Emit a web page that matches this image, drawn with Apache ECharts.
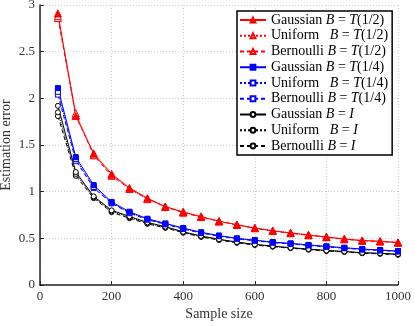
<!DOCTYPE html>
<html>
<head>
<meta charset="utf-8">
<script src="https://cdn.jsdelivr.net/npm/echarts@6/dist/echarts.min.js"></script>
<style>
  html, body { margin: 0; padding: 0; background: #fff; }
  #chart { width: 415px; height: 326px; }
</style>
</head>
<body>
<div id="chart"></div>
<script>
// sample sizes
const sampleSizes = [50, 100, 150, 200, 250, 300, 350, 400, 450, 500, 550, 600, 650, 700, 750, 800, 850, 900, 950, 1000]

// B = T(1/2)
const gaussT2 = [2.91, 1.81, 1.41, 1.19, 1.04, 0.93, 0.84, 0.78, 0.73, 0.685, 0.645, 0.61, 0.58, 0.557, 0.535, 0.514, 0.492, 0.476, 0.468, 0.455]
const uniformT2 = [2.88, 1.84, 1.40, 1.18, 1.03, 0.92, 0.84, 0.785, 0.735, 0.68, 0.648, 0.612, 0.582, 0.56, 0.538, 0.516, 0.494, 0.478, 0.47, 0.457]
const bernoulliT2 = [2.86, 1.82, 1.39, 1.17, 1.03, 0.925, 0.835, 0.775, 0.728, 0.683, 0.643, 0.608, 0.578, 0.555, 0.532, 0.512, 0.49, 0.474, 0.466, 0.452]

// B = T(1/4)
const gaussT4 = [2.11, 1.37, 1.07, 0.89, 0.785, 0.71, 0.66, 0.61, 0.565, 0.53, 0.5, 0.48, 0.46, 0.446, 0.43, 0.414, 0.4, 0.385, 0.375, 0.364]
const uniformT4 = [2.07, 1.35, 1.05, 0.88, 0.775, 0.705, 0.655, 0.605, 0.56, 0.527, 0.497, 0.477, 0.457, 0.443, 0.427, 0.411, 0.397, 0.382, 0.372, 0.361]
const bernoulliT4 = [2.04, 1.33, 1.04, 0.875, 0.77, 0.70, 0.65, 0.60, 0.556, 0.523, 0.494, 0.474, 0.454, 0.44, 0.424, 0.408, 0.394, 0.38, 0.37, 0.359]

// B = I
const gaussI = [1.92, 1.21, 0.95, 0.80, 0.735, 0.67, 0.625, 0.57, 0.525, 0.49, 0.46, 0.435, 0.417, 0.40, 0.385, 0.37, 0.36, 0.346, 0.34, 0.33]
const uniformI = [1.85, 1.19, 0.94, 0.79, 0.725, 0.662, 0.618, 0.565, 0.52, 0.486, 0.456, 0.432, 0.414, 0.397, 0.382, 0.367, 0.357, 0.343, 0.337, 0.327]
const bernoulliI = [1.81, 1.17, 0.93, 0.78, 0.715, 0.655, 0.612, 0.56, 0.515, 0.482, 0.452, 0.428, 0.41, 0.394, 0.379, 0.364, 0.354, 0.34, 0.334, 0.324]

const font = 'Liberation Serif'

function pairs(ys) {
  return sampleSizes.map((x, i) => [x, ys[i]])
}

function mk(name, ys, color, symbol, size, lineType, filled) {
  return {
    name: name,
    type: 'line',
    data: pairs(ys),
    symbol: symbol,
    symbolSize: size,
    showAllSymbol: true,
    lineStyle: { color: color, width: 1, type: lineType },
    itemStyle: { color: filled ? color : '#fff', borderColor: color, borderWidth: 1 },
    emphasis: { disabled: true },
    animation: false,
  }
}

const series = [
  mk('Bernoulli|I', bernoulliI, '#000000', 'circle', 5, [4, 3], false),
  mk('Uniform|I', uniformI, '#000000', 'circle', 5, 'dotted', false),
  mk('Gaussian|I', gaussI, '#000000', 'circle', 5, 'solid', false),
  mk('Bernoulli|T(1/4)', bernoulliT4, '#0000ff', 'rect', 5, [4, 3], false),
  mk('Uniform|T(1/4)', uniformT4, '#0000ff', 'rect', 5, 'dotted', false),
  mk('Gaussian|T(1/4)', gaussT4, '#0000ff', 'rect', 5, 'solid', true),
  mk('Bernoulli|T(1/2)', bernoulliT2, '#ff0000', 'triangle', 7, [4, 3], false),
  mk('Uniform|T(1/2)', uniformT2, '#ff0000', 'triangle', 7, 'dotted', false),
  mk('Gaussian|T(1/2)', gaussT2, '#ff0000', 'triangle', 7, 'solid', true),
]

const legendOrder = [
  'Gaussian|T(1/2)', 'Uniform|T(1/2)', 'Bernoulli|T(1/2)',
  'Gaussian|T(1/4)', 'Uniform|T(1/4)', 'Bernoulli|T(1/4)',
  'Gaussian|I', 'Uniform|I', 'Bernoulli|I',
]

const chart = echarts.init(document.getElementById('chart'), null, { renderer: 'canvas' })

chart.setOption({
  backgroundColor: '#fff',
  animation: false,
  grid: { left: 40, right: 17, top: 5, bottom: 41, containLabel: false, outerBoundsMode: 'none' },
  legend: {
    data: legendOrder,
    left: 237,
    top: 11,
    orient: 'vertical',
    backgroundColor: '#fff',
    borderColor: '#000',
    borderWidth: 1.5,
    borderRadius: 0,
    padding: [2, 4, 2, 2],
    itemWidth: 26,
    itemHeight: 6,
    itemGap: 1.75,
    formatter: function (name) {
      const parts = name.split('|')
      const lbl = parts[0] === 'Uniform' ? 'Uniform\u2002' : parts[0]
      const m = parts[1].match(/^([A-Z])(.*)$/)
      return lbl + ' {i|B} = {i|' + m[1] + '}' + m[2]
    },
    textStyle: {
      fontFamily: font,
      fontSize: 14,
      color: '#000',
      lineHeight: 14,
      rich: {
        i: { fontFamily: font, fontStyle: 'italic', fontSize: 14, color: '#000', lineHeight: 14 },
      },
    },
  },
  xAxis: {
    type: 'value',
    min: 0,
    max: 1000,
    interval: 200,
    name: 'Sample size',
    nameLocation: 'middle',
    nameGap: 22,
    nameMoveOverlap: false,
    nameTextStyle: { fontFamily: font, fontSize: 14, color: '#333' },
    axisLine: { show: true, lineStyle: { color: '#222', width: 1.5 } },
    axisTick: { show: true, inside: true, length: 4, lineStyle: { color: '#222' } },
    axisLabel: { fontFamily: font, fontSize: 13, color: '#333', margin: 5, formatter: v => String(v) },
    splitLine: { show: true, lineStyle: { color: '#ccc', type: [1, 2] } },
  },
  yAxis: {
    type: 'value',
    min: 0,
    max: 3,
    interval: 0.5,
    name: 'Estimation error',
    nameLocation: 'middle',
    nameGap: 27,
    nameMoveOverlap: false,
    nameTextStyle: { fontFamily: font, fontSize: 14, color: '#333' },
    axisLine: { show: true, lineStyle: { color: '#222', width: 1.5 } },
    axisTick: { show: true, inside: true, length: 4, lineStyle: { color: '#222' } },
    axisLabel: { fontFamily: font, fontSize: 13, color: '#333', margin: 5 },
    splitLine: { show: true, lineStyle: { color: '#ccc', type: [1, 2] } },
  },
  series: series,
})
</script>
</body>
</html>
